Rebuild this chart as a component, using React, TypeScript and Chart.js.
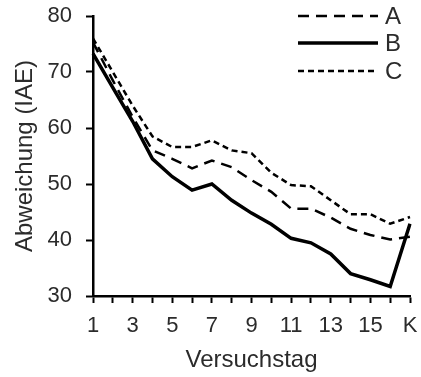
import { useEffect, useRef } from "react";
import { Chart, registerables } from "chart.js";

Chart.register(...registerables);

const categories = ["1", "2", "3", "4", "5", "6", "7", "8", "9", "10", "11", "12", "13", "14", "15", "16", "K"];
const shownTickLabels = ["1", "3", "5", "7", "9", "11", "13", "15", "K"];
const seriesNames = ["A", "B", "C"];
const seriesA = [75.3, 68.5, 62, 56, 54.5, 52.8, 54.2, 53, 50.7, 48.6, 45.6, 45.6, 44, 42, 40.9, 40.1, 40.6];
const seriesB = [73.3, 67.2, 61.2, 54.5, 51.3, 48.9, 50, 47.1, 44.8, 42.8, 40.3, 39.5, 37.5, 34, 32.9, 31.7, 42.9];
const seriesC = [76, 70, 64, 58.5, 56.6, 56.6, 57.8, 56, 55.5, 52, 49.8, 49.6, 47.1, 44.6, 44.6, 42.9, 44.1];
const yMin = 30;
const yMax = 80;
const yStep = 10;

const FONT = "'Liberation Sans', Arial, sans-serif";
const TEXT = "#2b2b2b";

const legendPlugin = {
  id: "lineLegend",
  afterDraw(chart: any) {
    const ctx = chart.ctx;
    const x0 = 298;
    const x1 = 378;
    const ys = [16, 43, 71];
    ctx.save();
    chart.data.datasets.forEach((ds: any, i: number) => {
      const y = ys[i];
      ctx.beginPath();
      ctx.setLineDash(ds.borderDash || []);
      ctx.lineWidth = ds.borderWidth;
      ctx.strokeStyle = ds.borderColor;
      ctx.moveTo(x0, y);
      ctx.lineTo(x1, y);
      ctx.stroke();
      ctx.setLineDash([]);
      ctx.fillStyle = TEXT;
      ctx.font = `24px ${FONT}`;
      ctx.textBaseline = "middle";
      ctx.textAlign = "left";
      ctx.fillText(ds.label, 385, y + 1);
    });
    ctx.restore();
  },
};

export default function App() {
  const ref = useRef<HTMLCanvasElement | null>(null);

  useEffect(() => {
    document.body.style.margin = "0";
    const canvas = ref.current;
    if (!canvas) return;
    const chart = new Chart(canvas, {
      type: "line",
      data: {
        labels: categories,
        datasets: [
          {
            label: seriesNames[0],
            data: seriesA,
            borderColor: "#000000",
            borderWidth: 2.5,
            borderDash: [11, 7],
            pointRadius: 0,
            tension: 0,
            fill: false,
          },
          {
            label: seriesNames[1],
            data: seriesB,
            borderColor: "#000000",
            borderWidth: 3.5,
            borderDash: [],
            pointRadius: 0,
            tension: 0,
            fill: false,
          },
          {
            label: seriesNames[2],
            data: seriesC,
            borderColor: "#000000",
            borderWidth: 2.5,
            borderDash: [6, 4],
            pointRadius: 0,
            tension: 0,
            fill: false,
          },
        ],
      },
      options: {
        responsive: false,
        animation: false,
        layout: { padding: { top: 16, right: 11, left: 0, bottom: 0 } },
        plugins: {
          legend: { display: false },
          tooltip: { enabled: false },
        },
        scales: {
          x: {
            type: "category",
            offset: false,
            border: { display: true, color: "#000000", width: 2.5 },
            grid: {
              drawOnChartArea: false,
              drawTicks: true,
              tickLength: 7,
              tickColor: "#000000",
              tickWidth: 2,
            },
            ticks: {
              autoSkip: false,
              maxRotation: 0,
              minRotation: 0,
              padding: 10,
              color: TEXT,
              font: { family: FONT, size: 22 },
              callback: function (this: any, value: any, index: number) {
                const lab = categories[index];
                return shownTickLabels.includes(lab) ? lab : "";
              },
            },
            title: {
              display: true,
              text: "Versuchstag",
              color: TEXT,
              font: { family: FONT, size: 24 },
              padding: { top: 0, bottom: 2 },
            },
            afterFit(scale: any) {
              scale.height = 81;
              scale.paddingLeft = 0;
              scale.paddingRight = 0;
            },
          },
          y: {
            min: yMin,
            max: yMax,
            border: { display: true, color: "#000000", width: 2.5 },
            grid: {
              drawOnChartArea: false,
              drawTicks: true,
              tickLength: 7,
              tickColor: "#000000",
              tickWidth: 2,
            },
            ticks: {
              stepSize: yStep,
              padding: 14,
              color: TEXT,
              font: { family: FONT, size: 22 },
            },
            title: {
              display: true,
              text: "Abweichung (IAE)",
              color: TEXT,
              font: { family: FONT, size: 24 },
              padding: { top: 11, bottom: 0 },
            },
            afterFit(scale: any) {
              scale.width = 93;
              scale.paddingTop = 0;
              scale.paddingBottom = 0;
            },
          },
        },
      },
      plugins: [legendPlugin],
    });
    return () => chart.destroy();
  }, []);

  return <canvas ref={ref} width={421} height={377} style={{ display: "block", width: 421, height: 377 }} />;
}
